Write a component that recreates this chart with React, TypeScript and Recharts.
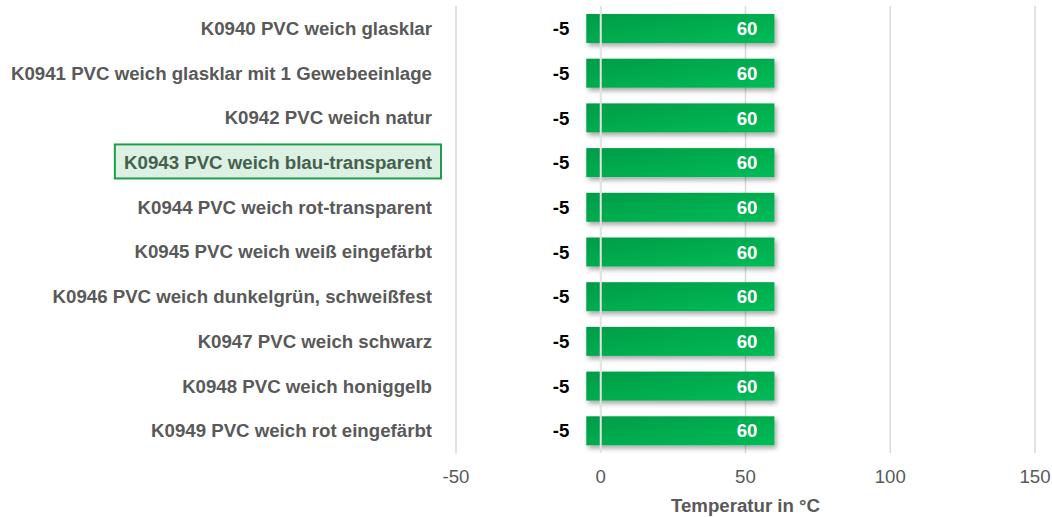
import React from 'react';
import {
  BarChart,
  Bar,
  XAxis,
  YAxis,
  CartesianGrid,
  LabelList,
  ReferenceLine,
} from 'recharts';

const materials = [
  'K0940 PVC weich glasklar',
  'K0941 PVC weich glasklar mit 1 Gewebeeinlage',
  'K0942 PVC weich natur',
  'K0943 PVC weich blau-transparent',
  'K0944 PVC weich rot-transparent',
  'K0945 PVC weich weiß eingefärbt',
  'K0946 PVC weich dunkelgrün, schweißfest',
  'K0947 PVC weich schwarz',
  'K0948 PVC weich honiggelb',
  'K0949 PVC weich rot eingefärbt',
];
const minTemp = [-5, -5, -5, -5, -5, -5, -5, -5, -5, -5];
const maxTemp = [60, 60, 60, 60, 60, 60, 60, 60, 60, 60];
const xTicks = [-50, 0, 50, 100, 150];
const highlighted = 'K0943 PVC weich blau-transparent';

const FONT = '"Liberation Sans", Arial, sans-serif';
const FS = 18.67;

const chartData = materials.map((name, i) => ({
  name,
  min: minTemp[i],
  max: maxTemp[i],
  range: [minTemp[i], maxTemp[i]],
}));

// rough Arial bold width, used only for the highlight box
const BOLD_W: Record<string, number> = {
  K: 722, P: 667, V: 667, C: 722, w: 778, e: 556, i: 278, c: 556, h: 611,
  b: 611, l: 278, a: 556, u: 611, '-': 333, t: 333, r: 389, n: 611, s: 556, p: 611, ' ': 278,
};
function textWidth(s: string) {
  let w = 0;
  for (const ch of s) w += BOLD_W[ch] ?? 556;
  return (w / 1000) * FS;
}

function CategoryTick(props: any) {
  const { x, y, payload } = props;
  const isHi = payload.value === highlighted;
  const w = textWidth(payload.value);
  return (
    <g>
      {isHi && (
        <rect
          x={x - w - 9}
          y={y - 18}
          width={w + 18}
          height={34}
          fill="#dcf1e3"
          stroke="#1f9d4c"
          strokeWidth={2}
        />
      )}
      <text
        x={x}
        y={y}
        dy="0.355em"
        textAnchor="end"
        fontFamily={FONT}
        fontSize={FS}
        fontWeight="bold"
        fill={isHi ? '#45604d' : '#595959'}
      >
        {payload.value}
      </text>
    </g>
  );
}

function ShadowBar(props: any) {
  const { x, y, width, height } = props;
  return (
    <rect
      x={x}
      y={y}
      width={width}
      height={height}
      fill="url(#barGrad)"
      filter="url(#barShadow)"
    />
  );
}

export default function App() {
  return (
    <div style={{ position: 'absolute', left: 0, top: 0, background: '#fff' }}>
      <BarChart
        width={1052}
        height={517}
        data={chartData}
        layout="vertical"
        margin={{ top: 6, right: 17, bottom: 0, left: 0 }}
      >
        <defs>
          <linearGradient id="barGrad" x1="0" y1="0" x2="1" y2="1">
            <stop offset="0%" stopColor="#009c47" />
            <stop offset="100%" stopColor="#00bc56" />
          </linearGradient>
          <filter id="barShadow" x="-5%" y="-30%" width="115%" height="170%">
            <feDropShadow dx="2" dy="3" stdDeviation="2.5" floodColor="#000" floodOpacity="0.35" />
          </filter>
        </defs>
        <CartesianGrid horizontal={false} stroke="#d9d9d9" strokeWidth={1.5} />
        <XAxis
          type="number"
          domain={[-50, 150]}
          ticks={xTicks}
          axisLine={false}
          tickLine={false}
          tickSize={0}
          tickMargin={17}
          height={64}
          tick={{ fontFamily: FONT, fontSize: FS, fill: '#595959' }}
          label={{
            value: 'Temperatur in °C',
            position: 'insideBottom',
            offset: 5,
            fontFamily: FONT,
            fontSize: FS,
            fontWeight: 'bold',
            fill: '#595959',
          }}
        />
        <YAxis
          type="category"
          dataKey="name"
          width={456}
          axisLine={false}
          tickLine={false}
          tickSize={0}
          tickMargin={24}
          interval={0}
          tick={<CategoryTick />}
        />
        <Bar dataKey="range" barSize={29} shape={<ShadowBar />} isAnimationActive={false}>
          <LabelList
            dataKey="min"
            position="left"
            offset={17}
            fill="#000"
            fontFamily={FONT}
            fontSize={FS}
            fontWeight="bold"
          />
          <LabelList
            dataKey="max"
            position="insideRight"
            offset={17}
            fill="#fff"
            fontFamily={FONT}
            fontSize={FS}
            fontWeight="bold"
          />
        </Bar>
        <ReferenceLine x={0} stroke="#e3e3e3" strokeWidth={2} />
      </BarChart>
    </div>
  );
}
